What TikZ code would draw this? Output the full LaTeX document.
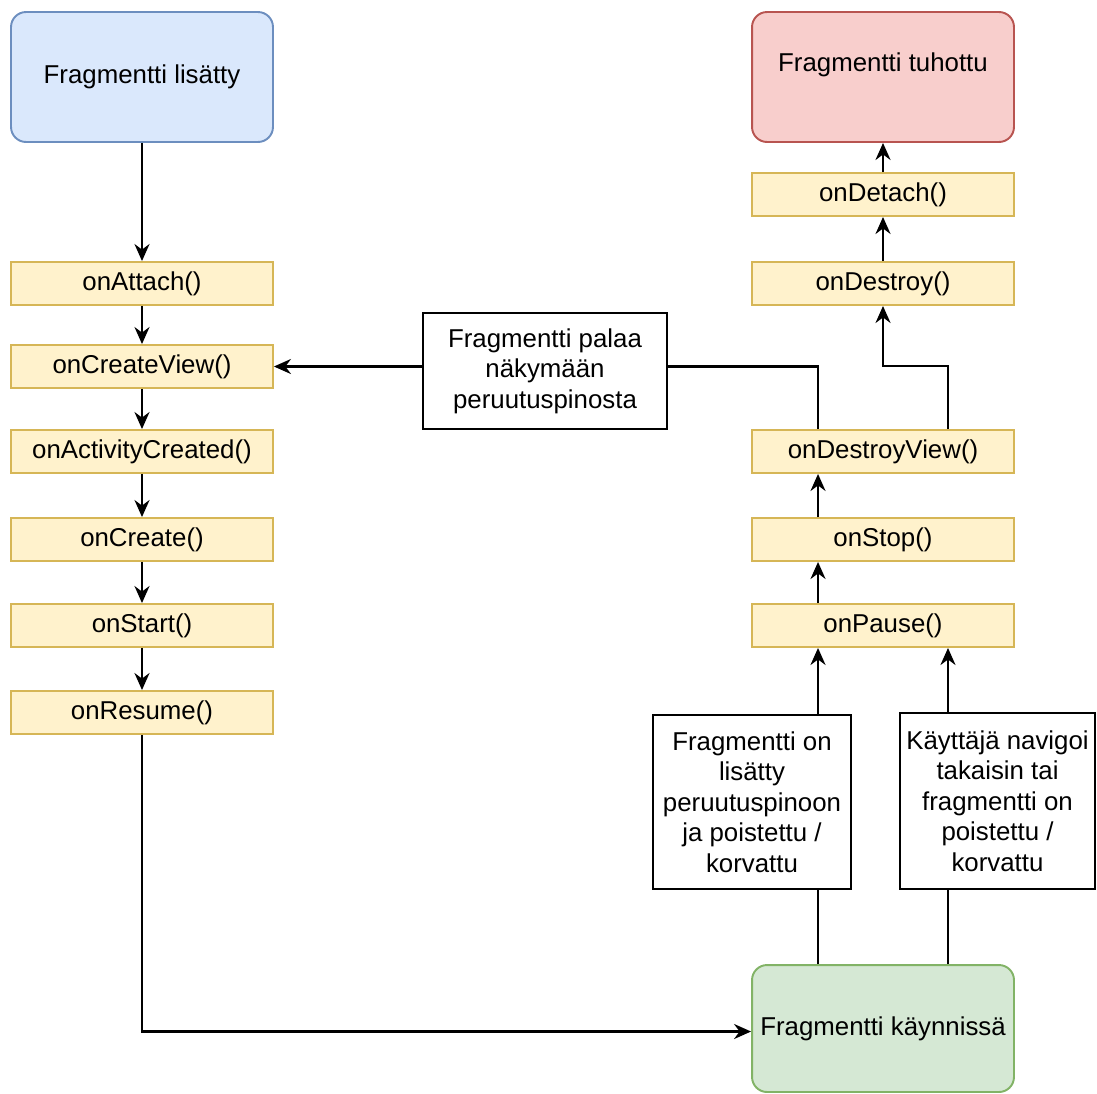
\documentclass[tikz,border=0pt]{standalone}
\usepackage{fontspec}
\setmainfont{Liberation Sans}
\usepackage{xcolor}
\usetikzlibrary{arrows.meta,positioning}

\definecolor{addfill}{HTML}{DAE8FC}
\definecolor{addline}{HTML}{6C8EBF}
\definecolor{deadfill}{HTML}{F8CECC}
\definecolor{deadline}{HTML}{B85450}
\definecolor{runfill}{HTML}{D5E8D4}
\definecolor{runline}{HTML}{82B366}
\definecolor{methodfill}{HTML}{FFF2CC}
\definecolor{methodline}{HTML}{D6B656}

\begin{document}
\begin{tikzpicture}[x=0.02cm, y=-0.02cm,
    every node/.style={font=\fontsize{14.7}{17.3}\selectfont},
    method/.style={draw=methodline, fill=methodfill, line width=1.1pt, minimum width=5.24cm, minimum height=0.86cm, inner sep=0pt},
    state/.style={rounded corners=0.3cm, line width=1.1pt, minimum width=5.24cm, minimum height=2.6cm, align=center},
    note/.style={draw, line width=1.1pt, fill=white, align=center, inner sep=0pt},
    flow/.style={line width=1.4pt, -{Stealth[length=0.34cm, width=0.3cm]}},
    plain/.style={line width=1.4pt}]
    \useasboundingbox (0,0) rectangle (1097,1093);

    % left column
    \node[state, draw=addline, fill=addfill] (added) at (142,77) {Fragmentti lisätty};
    \node[method] (attach) at (142,283.5) {onAttach()};
    \node[method] (cview) at (142,366.5) {onCreateView()};
    \node[method] (actc) at (142,451.5) {onActivityCreated()};
    \node[method] (create) at (142,539.5) {onCreate()};
    \node[method] (start) at (142,625.5) {onStart()};
    \node[method] (resume) at (142,712.5) {onResume()};

    % right column
    \node[state, draw=deadline, fill=deadfill] (destroyed) at (883,77) {Fragmentti tuhottu\\\mbox{}};
    \node[method] (detach) at (883,194.5) {onDetach()};
    \node[method] (destroy) at (883,283.5) {onDestroy()};
    \node[method] (dview) at (883,451.5) {onDestroyView()};
    \node[method] (stop) at (883,539.5) {onStop()};
    \node[method] (pause) at (883,625.5) {onPause()};
    \node[state, draw=runline, fill=runfill, minimum height=2.54cm] (running) at (883,1028.5) {Fragmentti käynnissä};

    % notes
    \node[note, minimum width=4.88cm, minimum height=2.32cm] (back) at (545,371) {Fragmentti palaa\\näkymään\\peruutuspinosta};
    \node[note, minimum width=3.96cm, minimum height=3.48cm] (stacked) at (752,802) {Fragmentti on\\lisätty\\peruutuspinoon\\ja poistettu /\\korvattu};
    \node[note, minimum width=3.9cm, minimum height=3.52cm] (removed) at (997.5,801) {Käyttäjä navigoi\\takaisin tai\\fragmentti on\\poistettu /\\korvattu};
    \coordinate (bend) at (883,366);

    \draw[flow] (added) -- (attach);
    \foreach \a/\b in {attach/cview, cview/actc, actc/create, create/start, start/resume}
        \draw[flow] (\a) -- (\b);
    \draw[flow] (resume) |- ([yshift=-0.06cm]running.west);

    \draw[flow] (destroyed |- detach.north) -- (destroyed);
    \draw[flow] (destroy) -- (detach);
    \draw[flow] ([xshift=1.3cm]dview.north) |- (bend) -- (destroy);
    \draw[plain] ([xshift=-1.3cm]dview.north) |- (back.east |- cview.east);
    \draw[flow] (back.west |- cview.east) -- (cview.east);
    \draw[flow] ([xshift=-1.3cm]stop.north) -- ([xshift=-1.3cm]dview.south);
    \draw[flow] ([xshift=-1.3cm]pause.north) -- ([xshift=-1.3cm]stop.south);

    \draw[plain] ([xshift=-1.3cm]running.north) -- ([xshift=-1.3cm]running.north |- stacked.south);
    \draw[flow] ([xshift=-1.3cm]running.north |- stacked.north) -- ([xshift=-1.3cm]pause.south);
    \draw[plain] ([xshift=1.3cm]running.north) -- ([xshift=1.3cm]running.north |- removed.south);
    \draw[flow] ([xshift=1.3cm]running.north |- removed.north) -- ([xshift=1.3cm]pause.south);
\end{tikzpicture}
\end{document}
